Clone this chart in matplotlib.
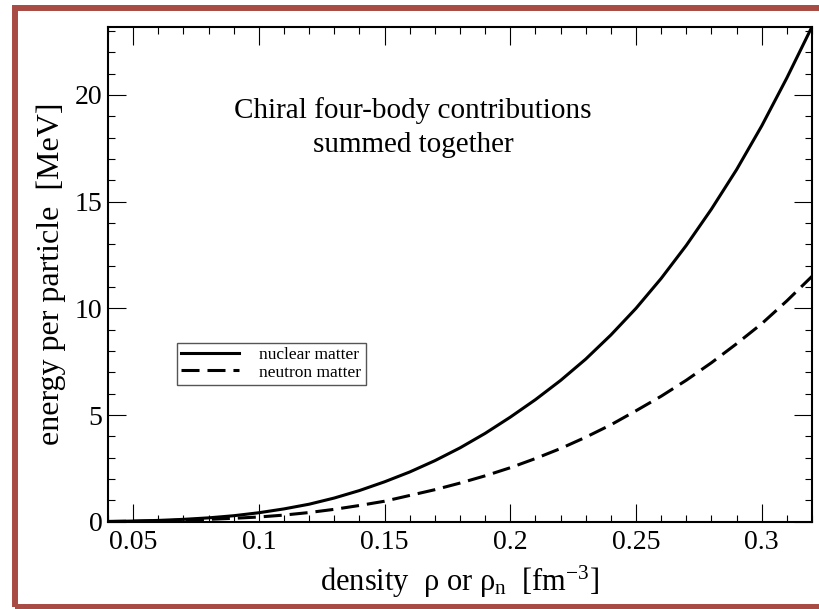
import numpy as np
import matplotlib
matplotlib.use("Agg")
import matplotlib.pyplot as plt
import matplotlib.ticker as mticker
from matplotlib.patches import Rectangle

plt.rcParams["font.family"] = ["Liberation Serif", "DejaVu Serif"]
plt.rcParams["mathtext.fontset"] = "custom"
plt.rcParams["mathtext.rm"] = "Liberation Serif"
plt.rcParams["mathtext.it"] = "Liberation Serif:italic"

# density grid [fm^-3]
density = [0.04, 0.05, 0.06, 0.07, 0.08, 0.09, 0.10, 0.11, 0.12, 0.13,
           0.14, 0.15, 0.16, 0.17, 0.18, 0.19, 0.20, 0.21, 0.22, 0.23,
           0.24, 0.25, 0.26, 0.27, 0.28, 0.29, 0.30, 0.31, 0.32]

# energy per particle [MeV]
nuclear_matter = [0.01, 0.03, 0.06, 0.11, 0.18, 0.28, 0.42, 0.60, 0.82, 1.11,
                  1.46, 1.87, 2.33, 2.86, 3.46, 4.14, 4.90, 5.72, 6.62, 7.62,
                  8.75, 10.0, 11.4, 12.95, 14.65, 16.5, 18.55, 20.8, 23.2]
neutron_matter = [0.01, 0.02, 0.04, 0.07, 0.11, 0.16, 0.22, 0.31, 0.43, 0.58,
                  0.76, 0.96, 1.23, 1.50, 1.81, 2.15, 2.53, 2.96, 3.43, 3.96,
                  4.54, 5.20, 5.88, 6.63, 7.45, 8.34, 9.28, 10.35, 11.5]

FRAME_COLOR = "#a94b45"

fig = plt.figure(figsize=(8.19, 6.09), dpi=100)
ax = fig.add_axes([108 / 819, 1 - 521.7 / 609, 704 / 819, 495 / 609])

ax.plot(density, nuclear_matter, color="black", lw=2.2, label="nuclear matter",
        solid_joinstyle="round")
ax.plot(density, neutron_matter, color="black", lw=2.2, dashes=(5.9, 2.6),
        label="neutron matter")

ax.set_xlim(0.04, 0.32)
ax.set_ylim(0, 23.2)
ax.xaxis.set_major_locator(mticker.FixedLocator([0.05, 0.1, 0.15, 0.2, 0.25, 0.3]))
ax.xaxis.set_major_formatter(mticker.FixedFormatter(["0.05", "0.1", "0.15", "0.2", "0.25", "0.3"]))
ax.xaxis.set_minor_locator(mticker.MultipleLocator(0.01))
ax.yaxis.set_major_locator(mticker.MultipleLocator(5))
ax.yaxis.set_minor_locator(mticker.MultipleLocator(1))

ax.tick_params(which="both", direction="in", top=True, right=True, width=0.8,
               labelsize=20)
ax.tick_params(which="major", length=13)
ax.tick_params(which="minor", length=5)
ax.tick_params(axis="x", pad=6)
ax.tick_params(axis="y", pad=4)
for s in ax.spines.values():
    s.set_linewidth(1.5)

ax.set_xlabel(r"density  ρ or ρ$_\mathregular{n}$  [fm$^\mathregular{-3}$]",
              fontsize=22, labelpad=6)
ax.set_ylabel("energy per particle  [MeV]", fontsize=23, labelpad=6)

ax.text(0.433, 0.796, "Chiral four-body contributions\nsummed together",
        transform=ax.transAxes, ha="center", va="center", fontsize=21,
        linespacing=1.4)

leg = ax.legend(loc="upper left", bbox_to_anchor=(69 / 704, (521.7 - 343) / 495),
                fontsize=12.5, handlelength=3.3, handletextpad=1.2,
                borderpad=0.25, labelspacing=0.05, borderaxespad=0,
                fancybox=False, framealpha=1)
leg.get_frame().set_edgecolor("#555555")
leg.get_frame().set_linewidth(1.0)

# reddish slide frame around the figure
fig.patches.append(Rectangle((15 / 819, 1 - 606.5 / 609), 830 / 819, (606.5 - 8) / 609,
                             transform=fig.transFigure, fill=False,
                             edgecolor=FRAME_COLOR, lw=4.3, zorder=10))

fig.savefig("out.png", dpi=100)
